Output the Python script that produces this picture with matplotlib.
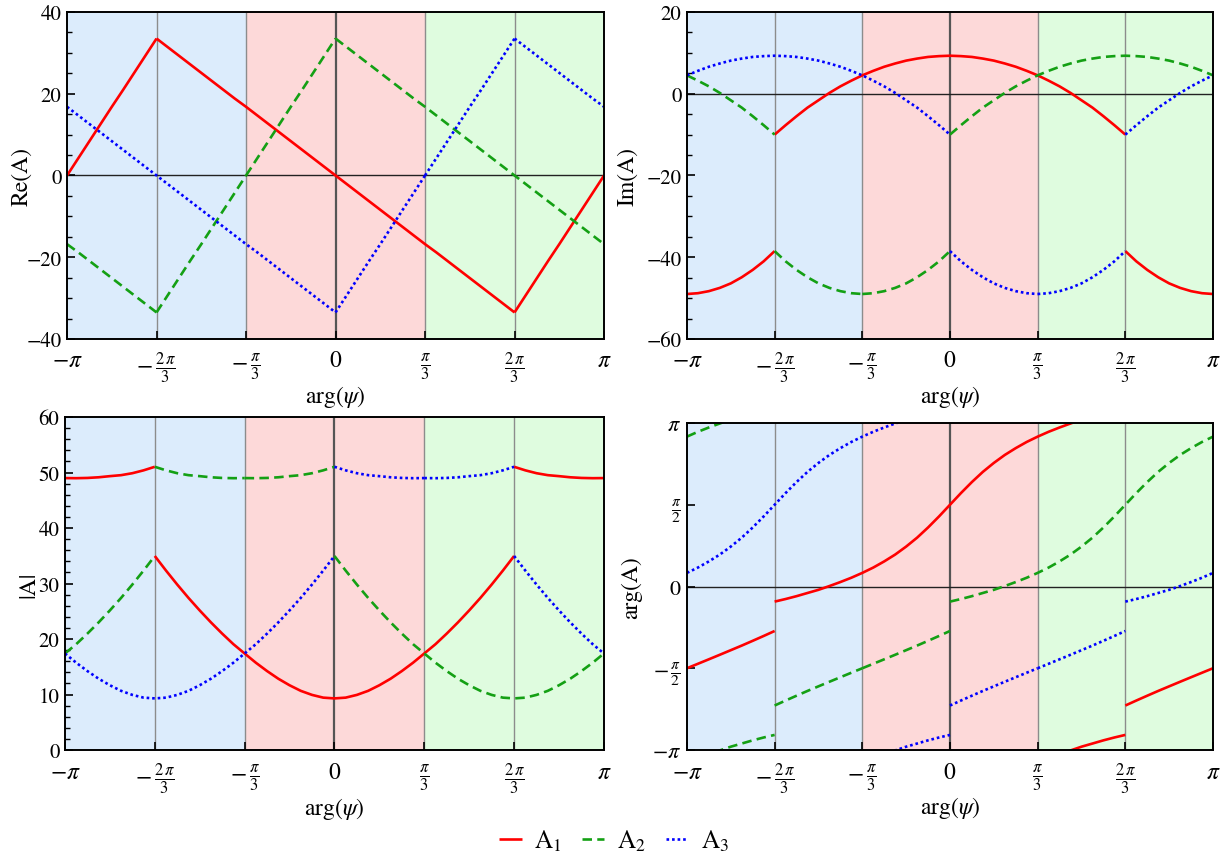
import numpy as np
import matplotlib.pyplot as plt
from matplotlib.ticker import FixedLocator, MultipleLocator

# It has three branches: [-pi, -2pi/3], [-2pi/3, 2pi/3], [2pi/3, pi].
k_left = np.arange(-24, -15)
k_mid = np.arange(-16, 17)
k_right = np.arange(16, 25)

re_left = [0.0, 4.2, 8.4, 12.6, 16.8, 20.9, 25.1, 29.3, 33.5]
im_left = [-49.0, -48.8, -48.3, -47.5, -46.4, -44.9, -43.1, -41.0, -38.5]

re_mid = [33.5, 31.4, 29.3, 27.2, 25.1, 23.0, 20.9, 18.8, 16.8, 14.7, 12.6,
          10.5, 8.4, 6.3, 4.2, 2.1, 0.0, -2.1, -4.2, -6.3, -8.4, -10.5,
          -12.6, -14.7, -16.8, -18.8, -20.9, -23.0, -25.1, -27.2, -29.3,
          -31.4, -33.5]
im_mid = [-10.0, -7.7, -5.5, -3.4, -1.6, 0.2, 1.8, 3.2, 4.5, 5.6, 6.6,
          7.4, 8.1, 8.6, 9.0, 9.2, 9.3, 9.2, 9.0, 8.6, 8.1, 7.4, 6.6, 5.6,
          4.5, 3.2, 1.8, 0.2, -1.6, -3.4, -5.5, -7.7, -10.0]

re_right = [-33.5, -29.3, -25.1, -20.9, -16.8, -12.6, -8.4, -4.2, 0.0]
im_right = [-38.5, -41.0, -43.1, -44.9, -46.4, -47.5, -48.3, -48.8, -49.0]

# A2 and A3 are the same curve moved by +2pi/3 and -2pi/3 (16 grid steps)
series_labels = [r"$\mathrm{A}_1$", r"$\mathrm{A}_2$", r"$\mathrm{A}_3$"]
series_shift = [0, 16, -16]
series_colors = ["#ff0000", "#14a014", "#0000ff"]
series_styles = ["-", (0, (3.6, 2.0)), (0, (1.0, 1.1))]

region_colors = ["#dcecfc", "#fdd9d9", "#dffcdf"]

x_ticks = [-np.pi, -2 * np.pi / 3, -np.pi / 3, 0, np.pi / 3, 2 * np.pi / 3, np.pi]
x_ticklabels = [r"$-\pi$", r"$-\,\frac{2\,\pi}{3}$", r"$-\,\frac{\pi}{3}$", r"$0$",
                r"$\frac{\pi}{3}$", r"$\frac{2\,\pi}{3}$", r"$\pi$"]

plt.rcParams["font.family"] = ["STIXGeneral", "DejaVu Serif"]
plt.rcParams["mathtext.fontset"] = "stix"


def branches(k, re, im, shift):
    kk = k + shift
    z = np.asarray(re) + 1j * np.asarray(im)
    out = []
    for lo, hi, off in [(-24, 24, 0), (24, 72, -48), (-72, -24, 48)]:
        m = (kk >= lo) & (kk <= hi)
        if m.sum() > 1:
            out.append(((kk[m] + off) * np.pi / 24, z[m]))
    return out


def style_axes(ax, ylim, ymajor, yminor, ylabel):
    ax.set_xlim(-np.pi, np.pi)
    ax.set_ylim(*ylim)
    for (x0, x1), c in zip([(-np.pi, -np.pi / 3), (-np.pi / 3, np.pi / 3),
                            (np.pi / 3, np.pi)], region_colors):
        ax.axvspan(x0, x1, color=c, lw=0, zorder=0)
    for x in [-2 * np.pi / 3, -np.pi / 3, np.pi / 3, 2 * np.pi / 3]:
        ax.axvline(x, color="#8c8c8c", lw=1.0, zorder=1)
    ax.axvline(0, color="#555555", lw=1.6, zorder=1)
    ax.axhline(0, color="#222222", lw=1.0, zorder=1)

    ax.xaxis.set_major_locator(FixedLocator(x_ticks))
    ax.set_xticklabels(x_ticklabels)
    if isinstance(ymajor, list):
        ax.yaxis.set_major_locator(FixedLocator(ymajor))
    else:
        ax.yaxis.set_major_locator(MultipleLocator(ymajor))
    if yminor:
        ax.yaxis.set_minor_locator(MultipleLocator(yminor))
    ax.tick_params(direction="in", labelsize=15, width=1.2, length=6,
                   top=False, right=False, pad=4)
    ax.tick_params(axis="x", labelsize=17, pad=8)
    ax.tick_params(which="minor", direction="in", length=3.5, width=1.0,
                   top=False, right=False)
    for s in ax.spines.values():
        s.set_linewidth(1.4)
        s.set_zorder(5)
    ax.set_ylabel(ylabel, fontsize=17)
    ax.set_xlabel(r"arg($\psi$)", fontsize=17)


fig = plt.figure(figsize=(12.28, 8.54), dpi=100)
ax_re = fig.add_axes([0.0546, 0.6019, 0.4373, 0.3829])
ax_im = fig.add_axes([0.5594, 0.6019, 0.4284, 0.3829])
ax_abs = fig.add_axes([0.0529, 0.1206, 0.4389, 0.3899])
ax_arg = fig.add_axes([0.5594, 0.1206, 0.4284, 0.3829])

style_axes(ax_re, (-40, 40), 20, 5, "Re(A)")
style_axes(ax_im, (-60, 20), 20, 5, "Im(A)")
style_axes(ax_abs, (0, 60), 10, 2, "|A|")
style_axes(ax_arg, (-np.pi, np.pi), [-np.pi, -np.pi / 2, 0, np.pi / 2, np.pi],
           None, "arg(A)")
ax_arg.set_yticklabels([r"$-\pi$", r"$-\,\frac{\pi}{2}$", r"$0$",
                        r"$\frac{\pi}{2}$", r"$\pi$"], fontsize=16)

segments = [(k_left, re_left, im_left), (k_mid, re_mid, im_mid),
            (k_right, re_right, im_right)]

handles = []
for lab, shift, col, ls in zip(series_labels, series_shift, series_colors,
                               series_styles):
    kw = dict(color=col, ls=ls, lw=1.9, zorder=3, solid_capstyle="butt",
              dash_capstyle="butt")
    for k, re, im in segments:
        for x, z in branches(k, re, im, shift):
            ax_re.plot(x, z.real, **kw)
            ax_im.plot(x, z.imag, **kw)
            ax_abs.plot(x, np.abs(z), **kw)
            ang = np.unwrap(np.angle(z))
            for off in (-2 * np.pi, 0, 2 * np.pi):
                ax_arg.plot(x, ang + off, **kw)
    handles.append(plt.Line2D([], [], label=lab, **kw))

ax_re.yaxis.set_label_coords(-0.065, 0.5)
ax_im.yaxis.set_label_coords(-0.093, 0.5)
ax_abs.yaxis.set_label_coords(-0.047, 0.5)
ax_arg.yaxis.set_label_coords(-0.086, 0.5)
ax_re.xaxis.set_label_coords(0.5, -0.135)
ax_im.xaxis.set_label_coords(0.5, -0.135)
ax_abs.xaxis.set_label_coords(0.5, -0.135)
ax_arg.xaxis.set_label_coords(0.5, -0.135)

fig.legend(handles=handles, loc="center", bbox_to_anchor=(0.5, 1 - 842 / 854),
           ncol=3, frameon=False, fontsize=18, handlelength=0.9,
           handletextpad=0.5, columnspacing=0.8)

fig.savefig("out.png", dpi=100)
